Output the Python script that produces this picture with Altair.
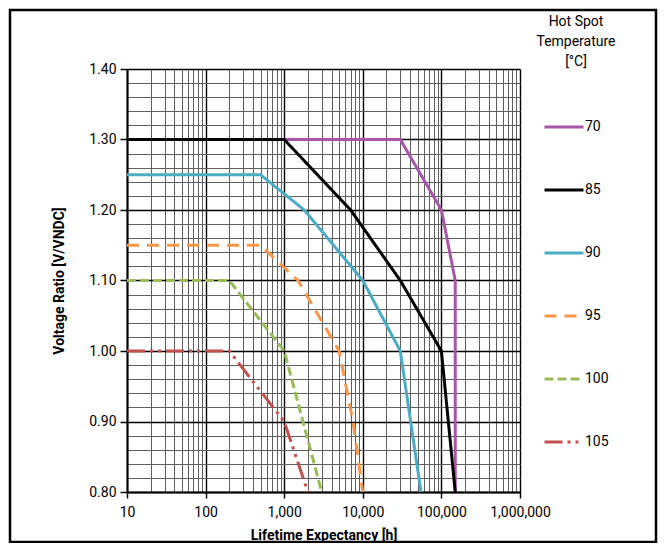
import altair as alt
import pandas as pd

# ---- data ----
series_names = ["70", "85", "90", "95", "100", "105"]

hours_70 = [1000, 30000, 100000, 150000, 150000]
ratio_70 = [1.30, 1.30, 1.20, 1.10, 0.80]

hours_85 = [10, 1000, 7000, 30000, 100000, 150000]
ratio_85 = [1.30, 1.30, 1.20, 1.10, 1.00, 0.80]

hours_90 = [10, 500, 1800, 10000, 30000, 55000]
ratio_90 = [1.25, 1.25, 1.20, 1.10, 1.00, 0.80]

hours_95 = [10, 500, 1500, 5000, 7500, 10000]
ratio_95 = [1.15, 1.15, 1.10, 1.00, 0.90, 0.80]

hours_100 = [10, 200, 1000, 3000]
ratio_100 = [1.10, 1.10, 1.00, 0.80]

hours_105 = [10, 200, 1000, 2000]
ratio_105 = [1.00, 1.00, 0.90, 0.80]

series_colors = ["#A855A8", "#000000", "#4BACC6", "#F79646", "#9BBB59", "#C0504D"]
series_dashes = [[1, 0], [1, 0], [1, 0], [12, 8], [9, 4], [18, 5, 3, 5, 3, 5]]

x_tick_values = [m * 10 ** d for d in range(1, 6) for m in range(1, 10)] + [1000000]
y_tick_values = [round(0.80 + 0.02 * i, 2) for i in range(31)]

all_hours = [hours_70, hours_85, hours_90, hours_95, hours_100, hours_105]
all_ratio = [ratio_70, ratio_85, ratio_90, ratio_95, ratio_100, ratio_105]

rows = []
for name, hs, rs in zip(series_names, all_hours, all_ratio):
    for i, (h, r) in enumerate(zip(hs, rs)):
        rows.append({"series": name, "idx": i, "hours": h, "ratio": r})
df = pd.DataFrame(rows)

FONT = "Roboto"

x_major = "abs(log(datum.value)/LN10 - round(log(datum.value)/LN10)) < 0.001"
y_major = "abs(datum.value*10 - round(datum.value*10)) < 0.001"

x_axis = alt.Axis(
    values=x_tick_values,
    labelExpr=f"({x_major}) ? format(datum.value, ',') : ''",
    labelFlush=False,
    labelOverlap=False,
    labelFont=FONT, labelFontSize=14, labelColor="#000", labelPadding=7,
    title="Lifetime Expectancy [h]",
    titleFont=FONT, titleFontSize=14, titleFontWeight="bold", titleColor="#000",
    titlePadding=9,
    grid=True,
    gridColor={"condition": {"test": x_major, "value": "#000000"}, "value": "#5e5e5e"},
    gridWidth={"condition": {"test": x_major, "value": 1.4}, "value": 1},
    tickColor={"condition": {"test": x_major, "value": "#000000"}, "value": "transparent"},
    tickSize=6, tickWidth=1.5,
    domainColor="#000", domainWidth=2,
)

y_axis = alt.Axis(
    values=y_tick_values,
    labelExpr=f"({y_major}) ? format(datum.value, '.2f') : ''",
    labelFlush=False,
    labelOverlap=False,
    labelFont=FONT, labelFontSize=14, labelColor="#000", labelPadding=4,
    title="Voltage Ratio [V/VNDC]",
    titleFont=FONT, titleFontSize=14, titleFontWeight="bold", titleColor="#000",
    titlePadding=22,
    grid=True,
    gridColor={"condition": {"test": y_major, "value": "#000000"}, "value": "#5e5e5e"},
    gridWidth={"condition": {"test": y_major, "value": 1.4}, "value": 1},
    tickColor={"condition": {"test": y_major, "value": "#000000"}, "value": "transparent"},
    tickSize=7, tickWidth=1.5,
    domainColor="#000", domainWidth=2,
)

legend = alt.Legend(
    title=["Hot Spot", "Temperature", "[°C]"],
    orient="none", legendX=409, legendY=-54,
    padding=0,
    symbolType="stroke", symbolSize=1521, symbolStrokeWidth=3, symbolOffset=0,
    labelFont=FONT, labelFontSize=14, labelColor="#000", labelOffset=0,
    titleFont=FONT, titleFontSize=14, titleFontWeight="normal", titleColor="#000",
    titleAnchor="middle", titleAlign="center", titleLineHeight=20, titlePadding=37,
    rowPadding=35,
)

lines = alt.Chart(df).mark_line(strokeWidth=3, clip=True).encode(
    x=alt.X("hours:Q", scale=alt.Scale(type="log", domain=[10, 1000000], nice=False), axis=x_axis),
    y=alt.Y("ratio:Q", scale=alt.Scale(domain=[0.80, 1.40], nice=False, zero=False), axis=y_axis),
    color=alt.Color("series:N", scale=alt.Scale(domain=series_names, range=series_colors), legend=legend),
    strokeDash=alt.StrokeDash("series:N", scale=alt.Scale(domain=series_names, range=series_dashes), legend=legend),
    order=alt.Order("idx:Q"),
)

frame = alt.Chart(pd.DataFrame({"f": [0]})).mark_rect(
    fill="transparent", stroke="#000", strokeWidth=2.5
).encode(
    x=alt.value(-117), x2=alt.value(393 + 136),
    y=alt.value(-59), y2=alt.value(423 + 50),
)

chart = alt.layer(frame, lines).properties(
    width=393, height=423,
    autosize=alt.AutoSizeParams(type="none"),
    padding={"left": 119, "top": 61, "right": 138, "bottom": 51},
    background="white",
).configure_view(stroke=None)

chart.save("out.html", embed_options={"renderer": "svg", "actions": False})
